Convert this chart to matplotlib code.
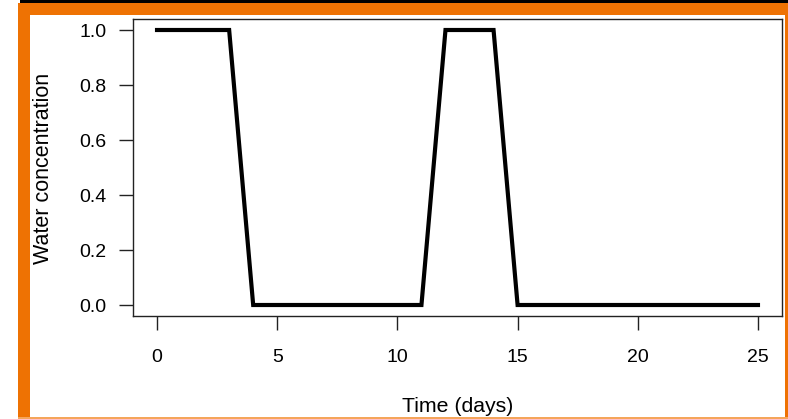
import matplotlib
matplotlib.use("Agg")
import matplotlib.pyplot as plt
from matplotlib.patches import Rectangle, FancyBboxPatch

plt.rcParams['font.family'] = ['Liberation Sans', 'DejaVu Sans']

days = [0, 1, 2, 3, 4, 5, 6, 7, 8, 9, 10, 11, 12, 13, 14, 15, 16, 17, 18, 19, 20, 21, 22, 23, 24, 25]
water = [1, 1, 1, 1, 0, 0, 0, 0, 0, 0, 0, 0, 1, 1, 1, 0, 0, 0, 0, 0, 0, 0, 0, 0, 0, 0]
xticks = [0, 5, 10, 15, 20, 25]
yticks = [0.0, 0.2, 0.4, 0.6, 0.8, 1.0]

W, H = 788, 419
fig = plt.figure(figsize=(W / 100, H / 100), dpi=100)
fig.patch.set_facecolor('white')

def px_rect(x0, y0, x1, y1, color):
    fig.patches.append(Rectangle((x0 / W, 1 - y1 / H), (x1 - x0) / W, (y1 - y0) / H,
                                 transform=fig.transFigure, facecolor=color,
                                 edgecolor='none', zorder=0))

orange = '#EE7203'
px_rect(20, 0, W, 3.5, '#000000')
px_rect(18, 3.5, W, 15, orange)
px_rect(18, 3.5, 30, H, orange)
px_rect(785, 3.5, W, H, orange)
px_rect(18, 417, W, H, '#F5A55A')

ax = fig.add_axes([133 / W, 1 - 316 / H, (782 - 133) / W, (316 - 19) / H])
ax.plot(days, water, color='black', linewidth=3, solid_joinstyle='miter')
ax.set_xlim(-1, 26)
ax.set_ylim(-0.04, 1.04)
ax.set_xticks(xticks)
ax.set_xticklabels([str(t) for t in xticks])
ax.set_yticks(yticks)
ax.set_yticklabels([f'{t:.1f}' for t in yticks])
for s in ax.spines.values():
    s.set_linewidth(1.0)
    s.set_color('#222222')
ax.tick_params(axis='both', length=10, width=1, labelsize=14, color='#222222')
ax.tick_params(axis='x', pad=14)
ax.tick_params(axis='y', pad=9)
ax.set_xlabel('Time (days)', fontsize=15.3)
ax.xaxis.set_label_coords(0.5, -(406 - 316) / (316 - 19), transform=ax.transAxes)
ax.set_ylabel('Water concentration', fontsize=15.5)
ax.yaxis.set_label_coords(-(133 - 44) / (782 - 133), (316 - 168) / (316 - 19), transform=ax.transAxes)
ax.xaxis.label.set_va('center')
ax.yaxis.label.set_va('center')

fig.savefig('out.png', dpi=100)
